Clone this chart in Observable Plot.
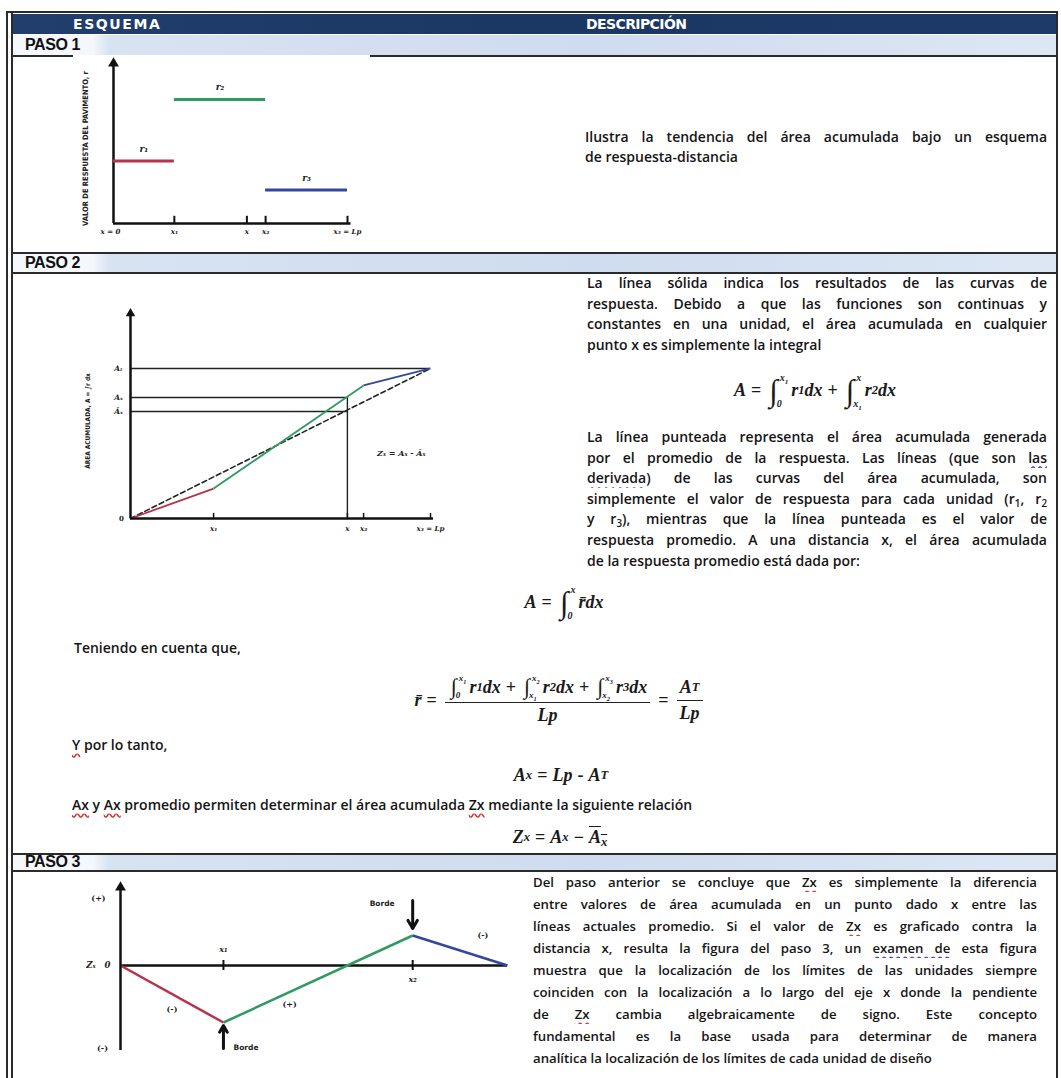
<!DOCTYPE html>
<html><head><meta charset="utf-8">
<script src="https://cdn.jsdelivr.net/npm/d3@7"></script>
<script src="https://cdn.jsdelivr.net/npm/@observablehq/plot@0.6"></script>
<style>
html,body{margin:0;padding:0;background:#fff;}
#page{position:relative;width:1061px;height:1078px;overflow:hidden;font-family:"Open Sans",sans-serif;color:#151515;}
.hl{position:absolute;background:#2b2b2b;}
.band{position:absolute;left:13px;width:1043px;background:linear-gradient(to right,#f4f7fb 0px,#f4f7fb 80px,#d8e3f2 96px,#cfdcef 55%,#dde7f4 100%);}
.bandlabel{position:absolute;left:25px;font-family:"Liberation Sans",Arial,sans-serif;font-weight:bold;font-size:16px;letter-spacing:-0.4px;color:#111;line-height:18px;}
.hdr{position:absolute;top:15px;font-family:"DejaVu Sans",sans-serif;font-weight:bold;font-size:14px;color:#fff;line-height:18px;}
.line{position:absolute;font-weight:600;font-size:14px;line-height:20px;height:20px;white-space:nowrap;}
.just{text-align:justify;text-align-last:justify;white-space:normal;overflow:hidden;}
.sq{text-decoration:underline wavy #d42a2a;text-decoration-skip-ink:none;text-underline-offset:3px;}
.sqb{text-decoration:underline wavy #3a3ab8;text-decoration-skip-ink:none;text-underline-offset:3px;}
.math{position:absolute;font-family:"Liberation Serif","DejaVu Serif",serif;font-style:italic;font-weight:bold;font-size:18px;white-space:nowrap;display:flex;align-items:center;justify-content:center;color:#1a1a1a;}
.op{font-style:normal;margin:0 5px;}
.int{display:inline-flex;align-items:center;margin:0 1px 0 3px;}
.isym{font-style:normal;font-weight:normal;font-size:31px;line-height:31px;margin-right:1px;}
.lim{display:inline-flex;flex-direction:column;justify-content:space-between;height:37px;font-size:10px;line-height:11px;margin-left:1px;margin-right:2px;}
.lim .lo{margin-left:-3px;}
.smallint .isym{font-size:22px;line-height:22px;}
.smallint .lim{height:26px;font-size:9px;line-height:9px;}
.frac{display:inline-flex;flex-direction:column;align-items:center;margin:0 3px;}
.frac .num{padding:0 3px 2px;display:flex;align-items:center;}
.frac .den{border-top:1.5px solid #222;padding:2px 3px 0;align-self:stretch;text-align:center;}
sub{font-size:70%;vertical-align:-3px;line-height:0;}
.ov{text-decoration:overline;}
.chart{position:absolute;}
</style>
</head><body>
<div id="page"></div>
<script>
// ---------- DATA ----------
const unitNames = ["r₁", "r₂", "r₃"];
const unitColors = ["#b7324a", "#2f9a62", "#33479c"];

// Paso 1: response per unit vs distance
const p1Bounds = [0, 2.6, 6.5, 10];          // x = 0, x1, x2, x3 = Lp
const p1Resp = [3.9, 7.75, 2.1];             // r1, r2, r3
const p1TickX = [2.6, 5.7, 6.5, 10];
const p1TickLabels = ["x₁", "x", "x₂", "x₃ = Lp"];
const p1YTop = [10];

// Paso 2: cumulative area
const p2Bounds = [0, 2.77, 7.77, 10];
const p2Cum = [0, 1.46, 6.49, 7.32];         // A at 0, x1, x2, Lp
const p2XPoint = [7.23];                     // x
const p2RefVals = [7.32, 5.9, 5.22];         // A_T, A_x, Ā_x
const p2RefLabels = ["Aₜ", "Aₓ", "Āₓ"];
const p2TickX = [2.77, 7.23, 7.77, 10];
const p2TickLabels = ["x₁", "x", "x₂", "x₃ = Lp"];
const p2YTop = [10];

// Paso 3: Z_x vs distance
const p3Bounds = [0, 2.66, 7.55, 10];
const p3Z = [0, -5.7, 3.0, 0];
const p3Signs = ["(-)", "(+)", "(-)"];
const p3YRange = [-8.5, 7.8];
const p3TickLabels = ["x₁", "x₂"];

// ---------- PAGE ----------
const page = document.getElementById("page");
function add(html){ page.insertAdjacentHTML("beforeend", html); }
function hl(l,t,w,h,c){ add(`<div class="hl" style="left:${l}px;top:${t}px;width:${w}px;height:${h}px;${c?`background:${c};`:""}"></div>`); }

// frame
hl(6,11,1052,2); hl(6,11,2,1067); hl(11,11,2,1067); hl(1056,11,2,1067);
// header
add(`<div style="position:absolute;left:13px;top:14px;width:1043px;height:20px;background:linear-gradient(to right,#213e6c,#1b3764 50%,#1d3a68);"></div>`);
add(`<div class="hdr" style="left:73px;letter-spacing:1.6px">ESQUEMA</div>`);
add(`<div class="hdr" style="left:586px;letter-spacing:-0.6px">DESCRIPCIÓN</div>`);
// bands
add(`<div class="band" style="top:35px;height:20px"></div><div class="bandlabel" style="top:36px">PASO 1</div>`);
hl(13,55,60,2); hl(370,55,686,2);
hl(13,252,1043,2);
add(`<div class="band" style="top:254px;height:18px"></div><div class="bandlabel" style="top:254px">PASO 2</div>`);
hl(13,272,1043,2);
hl(13,853,1043,2);
add(`<div class="band" style="top:855px;height:15px"></div><div class="bandlabel" style="top:853px">PASO 3</div>`);
hl(13,870,1043,2);

function lines(arr, left, top, width, step, fs){
  arr.forEach((t,i)=>{
    const last = i === arr.length-1;
    add(`<div class="line ${last?"":"just"}" style="left:${left}px;top:${top+i*step}px;width:${width}px;${fs?`font-size:${fs}px;`:""}">${t}</div>`);
  });
}
// Paso 1 text
lines(["Ilustra la tendencia del área acumulada bajo un esquema","de respuesta-distancia"], 585, 127, 462, 20);
// Paso 2 text
lines(["La línea sólida indica los resultados de las curvas de",
       "respuesta. Debido a que las funciones son continuas y",
       "constantes en una unidad, el área acumulada en cualquier",
       "punto x es simplemente la integral"], 587, 273, 460, 20.6);
lines(["La línea punteada representa el área acumulada generada",
       "por el promedio de la respuesta. Las líneas (que son <span class='sqb'>las</span>",
       "<span class='sqb'>derivada</span>) de las curvas del área acumulada, son",
       "simplemente el valor de respuesta para cada unidad (r<sub>1</sub>, r<sub>2</sub>",
       "y r<sub>3</sub>), mientras que la línea punteada es el valor de",
       "respuesta promedio. A una distancia x, el área acumulada",
       "de la respuesta promedio está dada por:"], 587, 427, 460, 20.6);
add(`<div class="line" style="left:74px;top:638px">Teniendo en cuenta que,</div>`);
add(`<div class="line" style="left:72px;top:735px"><span class="sq">Y</span> por lo tanto,</div>`);
add(`<div class="line" style="left:72px;top:795px"><span class="sq">Ax</span> y <span class="sq">Ax</span> promedio permiten determinar el área acumulada <span class="sq">Zx</span> mediante la siguiente relación</div>`);
// Paso 3 text
lines(["Del paso anterior se concluye que <span class='sq'>Zx</span> es simplemente la diferencia",
       "entre valores de área acumulada en un punto dado x entre las",
       "líneas actuales promedio. Si el valor de <span class='sq'>Zx</span> es graficado contra la",
       "distancia x, resulta la figura del paso 3, un <span class='sqb'>examen de</span> esta figura",
       "muestra que la localización de los límites de las unidades siempre",
       "coinciden con la localización a lo largo del eje x donde la pendiente",
       "de <span class='sq'>Zx</span> cambia algebraicamente de signo. Este concepto",
       "fundamental  es la base usada para determinar de manera",
       "analítica la localización de los límites de cada unidad de diseño"], 533, 872, 504, 22, 13.2);

// formulas
function int(lo, hi, cls){ return `<span class="int ${cls||""}"><span class="isym">∫</span><span class="lim"><span class="hi">${hi}</span><span class="lo">${lo}</span></span></span>`; }
function math(cx, cy, w, h, html){ add(`<div class="math" style="left:${cx-w/2}px;top:${cy-h/2}px;width:${w}px;height:${h}px">${html}</div>`); }
const eq = `<span class="op">=</span>`, plus = `<span class="op">+</span>`;
math(815, 390, 300, 44, `A${eq}${int("0","x<sub>1</sub>")}r<sub>1</sub>dx${plus}${int("x<sub>1</sub>","x")}r<sub>2</sub>dx`);
math(564, 602, 200, 44, `A${eq}${int("0","x")}r&#x0304;dx`);
math(560, 700, 460, 56, `r&#x0304;${eq}<span class="frac"><span class="num">${int("0","x<sub>1</sub>","smallint")}r<sub>1</sub>dx${plus}${int("x<sub>1</sub>","x<sub>2</sub>","smallint")}r<sub>2</sub>dx${plus}${int("x<sub>2</sub>","x<sub>3</sub>","smallint")}r<sub>3</sub>dx</span><span class="den">Lp</span></span>${eq}<span class="frac"><span class="num">A<sub>T</sub></span><span class="den">Lp</span></span>`);
math(561, 775, 200, 24, `A<sub>x</sub>${eq}Lp<span class="op">-</span>A<sub>T</sub>`);
math(560, 837, 200, 26, `Z<sub>x</sub>${eq}A<sub>x</sub><span class="op">−</span><span class="ov">A<sub>x</sub></span>`);

// ---------- CHARTS ----------
const lbl = {fontFamily: "DejaVu Serif", fontWeight: "bold", fill: "#222"};
function place(svg, left, top){
  const d = document.createElement("div");
  d.className = "chart"; d.style.left = left+"px"; d.style.top = top+"px";
  d.appendChild(svg); page.appendChild(d);
}
const seg = (bounds, vals) => unitNames.map((u,i)=>({u, xa:bounds[i], xb:bounds[i+1], ya:vals[i], yb:vals[i+1], c:unitColors[i]}));

// Paso 1
const p1Data = unitNames.map((u,i)=>({u, xa:p1Bounds[i], xb:p1Bounds[i+1], r:p1Resp[i], c:unitColors[i]}));
place(Plot.plot({
  width: 330, height: 190, marginLeft: 53, marginRight: 43, marginTop: 7, marginBottom: 23,
  x: {domain: [0, 10], axis: null}, y: {domain: [0, 10], axis: null}, color: {type: "identity"},
  style: {background: "transparent", overflow: "visible"},
  marks: [
    Plot.ruleX([0], {y1: 0, y2: p1YTop[0], stroke: "#111", strokeWidth: 2.5}),
    Plot.dot(p1YTop, {x: () => 0, y: d => d, symbol: "triangle", r: 4, fill: "#111"}),
    Plot.ruleY([0], {x1: 0, x2: 10.15, stroke: "#111", strokeWidth: 2.5}),
    Plot.ruleX(p1TickX, {x: d => d, y1: 0, y2: 0.45, stroke: "#111", strokeWidth: 2}),
    Plot.ruleY(p1Data, {y: "r", x1: "xa", x2: "xb", stroke: "c", strokeWidth: 3}),
    Plot.text(p1Data, {x: d => (d.xa + d.xb) / 2, y: "r", text: "u", dy: -12, fontSize: 9, fontStyle: "italic", ...lbl}),
    Plot.text(p1TickX, {x: d => d, y: 0, text: (d, i) => p1TickLabels[i], dy: 8, fontSize: 7, fontStyle: "italic", ...lbl}),
    Plot.text(["x = 0"], {x: () => 0, y: () => 0, text: d => d, dy: 8, dx: -3, fontSize: 7, fontStyle: "italic", ...lbl}),
    Plot.text(["VALOR DE RESPUESTA DEL PAVIMENTO, r"], {frameAnchor: "left", textAnchor: "middle", text: d => d, rotate: -90, dx: -28, dy: 5, fontSize: 7.5, ...lbl, fontFamily: "DejaVu Sans Condensed, DejaVu Sans"})
  ]
}), 60, 56);

// Paso 2
const p2Seg = seg(p2Bounds, p2Cum);
const p2Refs = p2RefVals.map((v,i)=>({v, l:p2RefLabels[i], xe: i === 0 ? p2Bounds[3] : p2XPoint[0]}));
place(Plot.plot({
  width: 390, height: 240, marginLeft: 60, marginRight: 30, marginTop: 13, marginBottom: 22,
  x: {domain: [0, 10], axis: null}, y: {domain: [0, 10], axis: null}, color: {type: "identity"},
  style: {background: "transparent", overflow: "visible"},
  marks: [
    Plot.ruleY(p2Refs, {y: "v", x1: 0, x2: "xe", stroke: "#222", strokeWidth: 1.6}),
    Plot.ruleX(p2XPoint, {x: d => d, y1: 0, y2: p2RefVals[1], stroke: "#222", strokeWidth: 1.4}),
    Plot.line([[p2Bounds[0], p2Cum[0]], [p2Bounds[3], p2Cum[3]]], {stroke: "#222", strokeWidth: 1.6, strokeDasharray: "5,3"}),
    Plot.link(p2Seg, {x1: "xa", y1: "ya", x2: "xb", y2: "yb", stroke: "c", strokeWidth: 1.8}),
    Plot.ruleX([0], {y1: 0, y2: p2YTop[0], stroke: "#111", strokeWidth: 2.5}),
    Plot.dot(p2YTop, {x: () => 0, y: d => d, symbol: "triangle", r: 3.5, fill: "#111"}),
    Plot.ruleY([0], {x1: 0, x2: 10.1, stroke: "#111", strokeWidth: 2.5}),
    Plot.ruleX(p2TickX, {x: d => d, y1: 0, y2: 0.25, stroke: "#111", strokeWidth: 1.5}),
    Plot.text(p2Refs, {x: () => 0, y: "v", text: "l", dx: -12, fontSize: 7.5, fontStyle: "italic", ...lbl}),
    Plot.text(["0"], {x: () => 0, y: () => 0, text: d => d, dx: -9, fontSize: 7, ...lbl}),
    Plot.text(p2TickX, {x: d => d, y: 0, text: (d, i) => p2TickLabels[i], dy: 10, fontSize: 7, fontStyle: "italic", ...lbl}),
    Plot.text(["Zₓ = Aₓ - Āₓ"], {frameAnchor: "right", text: d => d, textAnchor: "end", dx: -5, dy: 37, fontSize: 8, fontStyle: "italic", ...lbl}),
    Plot.text(["ÁREA ACUMULADA, A = ∫r dx"], {frameAnchor: "left", textAnchor: "middle", text: d => d, rotate: -90, dx: -43, dy: 5, fontSize: 6.5, ...lbl, fontFamily: "DejaVu Sans Condensed, DejaVu Sans"})
  ]
}), 70, 300);

// Paso 3
const p3Seg = seg(p3Bounds, p3Z);
const p3Frac = [0.5, 0.35, 0.74], p3Dy = [15, 12, -22];
const p3Lab = p3Seg.map((s,i)=>({t:p3Signs[i], x:s.xa + (s.xb-s.xa)*p3Frac[i], y:s.ya + (s.yb-s.ya)*p3Frac[i]}));
const p3Ticks = [p3Bounds[1], p3Bounds[2]];
const bordeTop = [{x: p3Bounds[2], z: p3Z[2]}];
const bordeBot = [{x: p3Bounds[1], z: p3Z[1]}];
place(Plot.plot({
  width: 480, height: 190, marginLeft: 60, marginRight: 33, marginTop: 12, marginBottom: 15,
  x: {domain: [0, 10], axis: null}, y: {domain: p3YRange, axis: null}, color: {type: "identity"},
  style: {background: "transparent", overflow: "visible"},
  marks: [
    Plot.ruleY([0], {x1: 0, x2: 10, stroke: "#111", strokeWidth: 2.5}),
    Plot.ruleX(p3Ticks, {x: d => d, y1: -0.5, y2: 0.5, stroke: "#111", strokeWidth: 2}),
    Plot.link(p3Seg, {x1: "xa", y1: "ya", x2: "xb", y2: "yb", stroke: "c", strokeWidth: 2.5}),
    Plot.ruleX([0], {y1: p3YRange[0], y2: p3YRange[1], stroke: "#111", strokeWidth: 2.5}),
    Plot.dot([p3YRange[1]], {x: () => 0, y: d => d, symbol: "triangle", r: 4, fill: "#111"}),
    Plot.arrow(bordeTop, {x1: "x", x2: "x", y1: d => d.z + 3.5, y2: d => d.z + 0.7, stroke: "#111", strokeWidth: 3, headLength: 6}),
    Plot.arrow(bordeBot, {x1: "x", x2: "x", y1: d => d.z - 2.6, y2: d => d.z - 0.3, stroke: "#111", strokeWidth: 3, headLength: 6}),
    Plot.text(bordeTop, {x: "x", y: d => d.z + 3.2, text: () => "Borde", textAnchor: "end", dx: -18, fontSize: 7.5, ...lbl, fontFamily: "DejaVu Sans"}),
    Plot.text(bordeBot, {x: "x", y: d => d.z - 2.5, text: () => "Borde", textAnchor: "start", dx: 10, fontSize: 7.5, ...lbl, fontFamily: "DejaVu Sans"}),
    Plot.text([p3Ticks[0]], {x: d => d, y: 0, text: () => p3TickLabels[0], dy: -16, fontSize: 8, fontStyle: "italic", ...lbl}),
    Plot.text([p3Ticks[1]], {x: d => d, y: 0, text: () => p3TickLabels[1], dy: 14, fontSize: 8, fontStyle: "italic", ...lbl}),
    ...p3Lab.map((d, i) => Plot.text([d], {x: "x", y: "y", text: "t", dy: p3Dy[i], fontSize: 8, ...lbl})),
    Plot.text(["(+)"], {x: () => 0, y: () => p3YRange[1], text: d => d, dx: -22, dy: 11, fontSize: 8, ...lbl}),
    Plot.text(["(-)"], {x: () => 0, y: () => p3YRange[0], text: d => d, dx: -18, dy: -2, fontSize: 8, ...lbl}),
    Plot.text(["Zₓ   0"], {x: () => 0, y: () => 0, text: d => d, textAnchor: "end", dx: -10, fontSize: 8.5, fontStyle: "italic", ...lbl})
  ]
}), 60, 875);
</script>
</body></html>
